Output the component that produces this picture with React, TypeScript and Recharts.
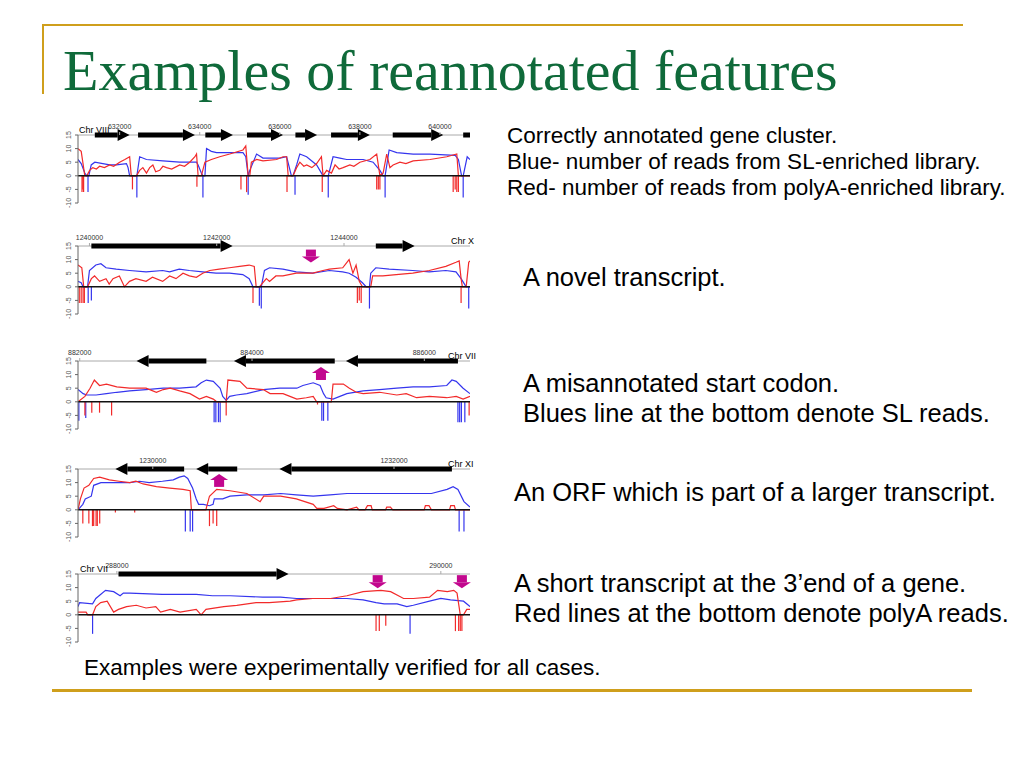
import React from 'react'
import { LineChart, Line, XAxis, YAxis, ReferenceLine, ReferenceDot } from 'recharts'

// [genomic position, reads]
const p1Blue = [
  [630960, 6], [631040, 4.5], [631130, 1], [631180, 0], [631230, 0], [631290, 4], [631380, 5], [631580, 4.5], [631750, 4], [631920, 4],
  [632170, 4.5], [632210, 3], [632250, 0], [632430, 0], [632500, 7], [632670, 6], [633080, 5.5], [633500, 5], [633920, 5], [633960, 4],
  [634040, 1], [634080, 0], [634130, 0], [634170, 10], [634290, 9], [634420, 8.5], [635080, 8.5], [635150, 7], [635210, 0], [635250, 2],
  [635420, 8], [635580, 6.5], [636000, 6.5], [636170, 7], [636290, 0], [636330, 0], [636420, 4], [636500, 8], [636670, 7], [636920, 4],
  [637080, 0], [637210, 0], [637330, 7], [637500, 6.5], [637670, 6], [638080, 6], [638330, 5], [638500, 2], [638580, 0], [638630, 0],
  [638730, 9.5], [638920, 8.5], [639330, 8], [639750, 8], [640380, 7.5], [640460, 6], [640540, 0], [640580, 0], [640680, 7], [640750, 6],
]
const p1Red = [
  [630960, 10], [631040, 9], [631080, 5], [631130, 0], [631180, 0], [631250, 2], [631330, 3], [631420, 2.5], [631500, 3.5], [631620, 3],
  [631750, 4], [631850, 3.5], [632000, 5], [632130, 6], [632250, 7], [632290, 0], [632420, 0], [632500, 2], [632580, 3], [632670, 1],
  [632750, 3], [632830, 4], [632900, 1.5], [633000, 2], [633080, 3.5], [633170, 3], [633300, 2.5], [633500, 4], [633620, 3.5], [633750, 5],
  [633880, 7], [633920, 8], [633960, 0], [634040, 0], [634130, 5], [634290, 6], [634500, 7], [634750, 8], [635080, 9.5], [635150, 11],
  [635210, 0], [635250, 0], [635290, 5], [635420, 6], [635580, 5.5], [635920, 6], [636080, 7], [636170, 7], [636210, 0], [636330, 0],
  [636420, 3], [636500, 5], [636600, 3.5], [636670, 4], [636800, 3], [636920, 4.5], [637040, 7], [637080, 0], [637170, 2], [637290, 1],
  [637380, 4], [637480, 2.5], [637580, 3], [637750, 4], [637850, 3.5], [638000, 5], [638250, 6], [638420, 8], [638500, 0], [638580, 1],
  [638670, 8], [638750, 3], [638830, 4], [639000, 5], [639150, 4.5], [639330, 5.5], [639750, 6], [640170, 7], [640420, 8], [640460, 0],
  [640580, 0], [640750, 0],
]
const p1RedSpikes = [
  [631060, -6], [631080, -5], [631100, -6], [632320, -5], [633930, -4], [635030, -5], [635170, -6], [636180, -6], [637060, -6],
  [638420, -5], [638460, -5], [638500, -5], [640330, -6], [640380, -5], [640420, -6], [640460, -6],
]
const p1BlueSpikes = [[631210, -6], [632430, -8], [634080, -8], [635210, -7], [636380, -7], [637210, -8], [638630, -8], [640580, -8]]
const p1Genes = [
  [631380, 632250, 1], [632460, 633880, 1], [634140, 634830, 1], [635180, 636080, 1], [636390, 636930, 1],
  [637280, 638250, 1], [638820, 640080, 1], [640580, 640750, 0],
]
const p1Ticks = [632000, 634000, 636000, 638000, 640000]

const p2Blue = [
  [1239820, 2], [1239870, 1.5], [1239900, 0], [1239970, 0], [1240000, 6], [1240100, 8], [1240180, 8.5], [1240260, 7], [1240420, 6.5],
  [1240630, 6], [1240890, 5.5], [1241150, 6], [1241260, 5.5], [1241410, 6.5], [1241570, 6], [1241780, 5.5], [1241990, 5], [1242200, 5],
  [1242410, 4.5], [1242510, 3], [1242570, 0], [1242700, 0], [1242750, 6], [1242830, 7], [1243040, 6.5], [1243250, 5.5], [1243510, 5],
  [1243770, 6], [1243980, 5.5], [1244080, 5], [1244190, 3.5], [1244290, 1.5], [1244350, 0], [1244400, 0], [1244420, 5], [1244500, 7],
  [1244710, 6.5], [1245080, 6], [1245340, 5.5], [1245600, 6], [1245760, 5.5], [1245840, 3], [1245920, 0], [1245980, 0],
]
const p2Red = [
  [1239820, 8], [1239880, 7], [1239910, 0], [1239970, 0], [1240030, 3], [1240080, 4], [1240160, 2], [1240260, 3], [1240310, 1],
  [1240370, 3], [1240470, 4], [1240550, 0], [1240630, 2], [1240730, 3], [1240890, 2], [1240990, 3.5], [1241150, 2], [1241260, 4],
  [1241360, 3], [1241470, 5], [1241570, 4], [1241680, 3.5], [1241780, 5], [1241890, 6], [1242040, 6.5], [1242200, 7], [1242360, 7.5],
  [1242510, 8], [1242590, 7.5], [1242620, 0], [1242670, 0], [1242780, 3], [1242830, 2], [1242930, 4], [1243040, 4], [1243250, 5],
  [1243510, 5], [1243670, 6], [1243770, 6.5], [1243980, 7], [1244080, 10], [1244140, 5], [1244190, 8], [1244240, 2], [1244290, 0],
  [1244420, 0], [1244450, 4], [1244610, 4], [1244820, 4.5], [1245080, 5], [1245340, 6], [1245600, 7.5], [1245760, 9], [1245810, 9.5],
  [1245840, 3], [1245860, 0], [1245920, 0], [1245960, 9], [1245980, 9.5],
]
const p2RedSpikes = [
  [1239840, -6], [1239870, -6], [1239900, -6], [1239920, -6], [1242570, -6], [1244210, -6], [1244240, -5], [1244270, -6], [1245840, -6],
]
const p2BlueSpikes = [[1239980, -6], [1240030, -5], [1242670, -7], [1242700, -8], [1244400, -8], [1245960, -8]]
const p2Genes = [[1240030, 1242250, 1], [1244500, 1245110, 1]]
const p2Marks = [[1243480, 8.9, 'down']]
const p2Ticks = [1240000, 1242000, 1244000]

const p3Blue = [
  [881980, 4.5], [882040, 3], [882080, 2.5], [882190, 2.5], [882310, 3], [882430, 3.5], [882580, 4], [882770, 4.5], [882970, 5],
  [883160, 5], [883350, 5.5], [883410, 7], [883470, 8], [883550, 7.5], [883630, 5], [883660, 2], [883700, 0.5], [883740, 2], [883820, 2.5],
  [883940, 3], [884130, 4.5], [884320, 5], [884520, 5], [884590, 6], [884710, 7], [884790, 6], [884830, 3], [884860, 1.5], [884940, 1],
  [885020, 2], [885100, 3], [885290, 4], [885480, 4.5], [885680, 5], [885870, 5.5], [886060, 5.5], [886260, 6], [886320, 8], [886370, 7.5],
  [886450, 5], [886530, 3],
]
const p3Red = [
  [881980, 0], [882060, 2], [882120, 5], [882170, 8], [882230, 6], [882310, 6.5], [882430, 5.5], [882580, 5], [882770, 5], [882890, 3.5],
  [882970, 4.5], [883050, 5], [883160, 4], [883280, 3], [883390, 1], [883470, 2], [883550, 1], [883590, 0], [883700, 0], [883720, 8],
  [883860, 7.5], [883940, 5], [884130, 4.5], [884210, 3], [884360, 3], [884440, 2], [884520, 1], [884630, 1.5], [884710, 2], [884750, 0],
  [884920, 0], [884940, 6.5], [885060, 6.5], [885130, 5], [885210, 3.5], [885290, 3], [885480, 3.5], [885680, 2.5], [885790, 3],
  [885910, 1.5], [886060, 2], [886260, 1.5], [886370, 2], [886450, 1], [886530, 2],
]
const p3RedSpikes = [[882060, -5], [882140, -4], [882230, -4], [882370, -5], [883700, -5], [884760, -1], [886520, -5]]
const p3BlueSpikes = [
  [881990, -7], [882070, -6], [883560, -7.5], [883580, -7.5], [883610, -7.5], [883630, -7.5], [884810, -7], [884830, -7], [884880, -7],
  [886390, -7.5], [886410, -7.5], [886430, -7.5], [886470, -7.5],
]
const p3Genes = [[883470, 882660, 1], [884960, 883790, 1], [886390, 885090, 1]]
const p3Marks = [[884800, 12.8, 'up']]
const p3Ticks = [882000, 884000, 886000]

const p4Blue = [
  [1229380, 0], [1229420, 2], [1229440, 4], [1229490, 5], [1229510, 9], [1229570, 10], [1229670, 10], [1229810, 10], [1229890, 10.5],
  [1229970, 10], [1230080, 10.5], [1230170, 11], [1230220, 12], [1230260, 12.5], [1230290, 11.5], [1230330, 8], [1230360, 4], [1230380, 2],
  [1230420, 2], [1230470, 1.5], [1230500, 2], [1230510, 4], [1230580, 4], [1230640, 5], [1230780, 5.5], [1230920, 5.5], [1231060, 6],
  [1231190, 5.5], [1231330, 5], [1231470, 5.5], [1231610, 6], [1231750, 6], [1231890, 6], [1232030, 6], [1232170, 6], [1232310, 6],
  [1232440, 7.5], [1232490, 8.5], [1232530, 7.5], [1232580, 3], [1232630, 1],
]
const p4Red = [
  [1229380, 0], [1229400, 4], [1229430, 8], [1229470, 9], [1229510, 11.5], [1229560, 12], [1229640, 11], [1229720, 10.5], [1229810, 10],
  [1229860, 10.5], [1229920, 9.5], [1230030, 8.5], [1230140, 8], [1230250, 7.5], [1230310, 7], [1230320, 0], [1230440, 0], [1230470, 5],
  [1230530, 7.5], [1230640, 7], [1230780, 6], [1230890, 3], [1230920, 5], [1231060, 5], [1231190, 4], [1231330, 2], [1231360, 0.5],
  [1231420, 0.5], [1231500, 1.5], [1231530, 0.5], [1231610, 0], [1231690, 1], [1231710, 0], [1231760, 0], [1231780, 1.5], [1231810, 1.5],
  [1231820, 0], [1231930, 0], [1231940, 1], [1231970, 1], [1231990, 0], [1232250, 0], [1232260, 1.5], [1232290, 1.5], [1232310, 0],
  [1232460, 0], [1232470, 1.5], [1232500, 1.5], [1232510, 0], [1232630, 0],
]
const p4RedSpikes = [
  [1229420, -5], [1229470, -5], [1229500, -6], [1229510, -6], [1229530, -6], [1229540, -6], [1229560, -5], [1229690, -1], [1229850, -1],
  [1230470, -6], [1230500, -5], [1230530, -6],
]
const p4BlueSpikes = [[1230270, -8], [1230310, -8], [1230330, -8], [1232540, -8], [1232580, -8]]
const p4Genes = [[1230260, 1229690, 1], [1230700, 1230360, 1], [1232480, 1231050, 1]]
const p4Marks = [[1230550, 13.2, 'up']]
const p4Ticks = [1230000, 1232000]

const p5Blue = [
  [287760, 3], [287770, 4.5], [287850, 4], [287870, 6], [287930, 9], [287980, 8.5], [288020, 7], [288040, 8], [288080, 8], [288280, 7.5],
  [288490, 7.5], [288590, 7], [288700, 7], [288900, 6.5], [289010, 6.5], [289110, 6], [289210, 6], [289320, 6], [289420, 6], [289520, 5.5],
  [289600, 4.5], [289650, 4], [289730, 4], [289790, 3], [289830, 3.5], [289930, 5], [290000, 6], [290060, 5.5], [290140, 5], [290180, 3],
]
const p5Red = [
  [287760, 1], [287810, 1], [287820, 0], [287850, 0], [287870, 3], [287900, 4.5], [287940, 5], [287980, 1], [288010, 2], [288060, 3],
  [288120, 3.5], [288180, 2.5], [288240, 3], [288270, 1], [288330, 2], [288390, 1], [288490, 2], [288520, 0], [288550, 2], [288660, 3],
  [288740, 3.5], [288860, 4.5], [288940, 4.5], [289070, 5], [289110, 5.5], [289210, 6], [289320, 6], [289420, 7], [289520, 8.5],
  [289630, 9], [289690, 8.5], [289770, 6], [289830, 6], [289930, 6.5], [289980, 9], [290040, 8.5], [290080, 9], [290100, 8], [290120, 0],
  [290140, 0], [290160, 2], [290180, 2],
]
const p5RedSpikes = [[289600, -6], [289620, -6], [289660, -4], [290090, -6], [290110, -6], [290120, -6], [290130, -6]]
const p5BlueSpikes = [[287850, -7], [289810, -7]]
const p5Genes = [[288010, 289060, 1]]
const p5Marks = [[289610, 9.8, 'down'], [290130, 9.8, 'down']]
const p5Ticks = [288000, 290000]

const yTicks = [-10, -5, 0, 5, 10, 15]

const notes = [
  { left: 507, top: 123, size: 22.5, lh: 26, lines: ['Correctly annotated gene cluster.', 'Blue- number of reads from SL-enriched library.', 'Red- number of reads from polyA-enriched library.'] },
  { left: 523, top: 262, size: 25.5, lh: 30, lines: ['A novel transcript.'] },
  { left: 523, top: 368, size: 25.5, lh: 30, lines: ['A misannotated start codon.', 'Blues line at the bottom denote SL reads.'] },
  { left: 514, top: 477, size: 25.5, lh: 30, lines: ['An ORF which is part of a larger transcript.'] },
  { left: 514, top: 568, size: 25.5, lh: 30, lines: ['A short transcript at the 3’end of a gene.', 'Red lines at the bottom denote polyA reads.'] },
]

const toPts = (arr: number[][]) => arr.map(([x, y]) => ({ x, y }))

const panels = [
  { top: 119, domain: [630960, 640750], ticks: p1Ticks, blue: p1Blue, red: p1Red, rs: p1RedSpikes, bs: p1BlueSpikes, genes: p1Genes, marks: [] as any[], chr: 'Chr VIII', chrLeft: 79 },
  { top: 230, domain: [1239820, 1245980], ticks: p2Ticks, blue: p2Blue, red: p2Red, rs: p2RedSpikes, bs: p2BlueSpikes, genes: p2Genes, marks: p2Marks, chr: 'Chr X', chrLeft: 451 },
  { top: 345, domain: [881980, 886530], ticks: p3Ticks, blue: p3Blue, red: p3Red, rs: p3RedSpikes, bs: p3BlueSpikes, genes: p3Genes, marks: p3Marks, chr: 'Chr VII', chrLeft: 448 },
  { top: 453, domain: [1229380, 1232630], ticks: p4Ticks, blue: p4Blue, red: p4Red, rs: p4RedSpikes, bs: p4BlueSpikes, genes: p4Genes, marks: p4Marks, chr: 'Chr XI', chrLeft: 448 },
  { top: 558, domain: [287760, 290180], ticks: p5Ticks, blue: p5Blue, red: p5Red, rs: p5RedSpikes, bs: p5BlueSpikes, genes: p5Genes, marks: p5Marks, chr: 'Chr VII', chrLeft: 80 },
]

const RED = '#f22a2a'
const BLUE = '#3535ee'
const GOLD = '#cf9f1c'

function YTick(props: any) {
  const { x, y, payload } = props
  const bx = x - 2
  return (
    <text x={bx} y={y} transform={`rotate(-90 ${bx} ${y})`} textAnchor="middle" fontSize={7} fill="#555">
      {payload.value}
    </text>
  )
}

function GeneShape(props: any) {
  const { x1, y1, x2, headed } = props
  const dir = x2 >= x1 ? 1 : -1
  const len = Math.abs(x2 - x1)
  const head = headed ? Math.min(12, len) : 0
  const hx = x2 - dir * head
  const shaftX = Math.min(x1, hx)
  return (
    <g>
      <rect x={shaftX} y={y1 - 2.5} width={Math.abs(hx - x1)} height={5} fill="#000" />
      {headed ? <polygon points={`${hx},${y1 - 6} ${x2},${y1} ${hx},${y1 + 6}`} fill="#000" /> : null}
    </g>
  )
}

function MarkShape(props: any) {
  const { cx, cy, dir } = props
  const s = dir === 'down' ? -1 : 1
  return (
    <g fill="#c2078e">
      <rect x={cx - 5} y={s > 0 ? cy + 6 : cy - 13} width={10} height={7} />
      <polygon points={`${cx - 9},${cy + s * 6} ${cx},${cy} ${cx + 9},${cy + s * 6}`} />
    </g>
  )
}

function Panel({ p }: { p: (typeof panels)[number] }) {
  return (
    <div style={{ position: 'absolute', left: 40, top: p.top }}>
      <LineChart width={434} height={90} margin={{ top: 2, right: 4, left: 0, bottom: 6 }}>
        <XAxis
          type="number"
          dataKey="x"
          orientation="top"
          domain={p.domain}
          allowDataOverflow
          ticks={p.ticks}
          interval={0}
          height={14}
          tickSize={3}
          tickMargin={3}
          axisLine={false}
          stroke="#aaa"
          tick={{ fontSize: 7, fill: '#333' }}
        />
        <YAxis
          type="number"
          domain={[-10, 15]}
          allowDataOverflow
          ticks={yTicks}
          interval={0}
          width={38}
          tickSize={3}
          stroke="#666"
          tick={<YTick />}
        />
        <ReferenceLine y={15} stroke="#aaa" strokeWidth={1} />
        {p.bs.map((s, i) => (
          <ReferenceLine key={'b' + i} segment={[{ x: s[0], y: 0 }, { x: s[0], y: s[1] }]} stroke={BLUE} strokeWidth={1.2} ifOverflow="visible" />
        ))}
        {p.rs.map((s, i) => (
          <ReferenceLine key={'r' + i} segment={[{ x: s[0], y: 0 }, { x: s[0], y: s[1] }]} stroke={RED} strokeWidth={1.2} ifOverflow="visible" />
        ))}
        <Line data={toPts(p.blue)} dataKey="y" stroke={BLUE} strokeWidth={1.2} dot={false} isAnimationActive={false} />
        <Line data={toPts(p.red)} dataKey="y" stroke={RED} strokeWidth={1.2} dot={false} isAnimationActive={false} />
        <ReferenceLine y={0} stroke="#111" strokeWidth={1.5} />
        {p.genes.map((g, i) => (
          <ReferenceLine
            key={'g' + i}
            segment={[{ x: g[0], y: 15 }, { x: g[1], y: 15 }]}
            ifOverflow="visible"
            shape={(sp: any) => <GeneShape {...sp} headed={g[2]} />}
          />
        ))}
        {p.marks.map((m, i) => (
          <ReferenceDot key={'m' + i} x={m[0]} y={m[1]} ifOverflow="visible" shape={(sp: any) => <MarkShape {...sp} dir={m[2]} />} />
        ))}
      </LineChart>
      <div style={{ position: 'absolute', left: p.chrLeft - 40, top: 7, fontSize: 9, lineHeight: '9px', color: '#000', whiteSpace: 'nowrap' }}>{p.chr}</div>
    </div>
  )
}

export default function App() {
  return (
    <div style={{ position: 'absolute', left: 0, top: 0, width: 1024, height: 768, background: '#fff', fontFamily: '"Liberation Sans", Arial, sans-serif', overflow: 'hidden' }}>
      <div style={{ position: 'absolute', left: 42, top: 24, width: 921, height: 2, background: GOLD }} />
      <div style={{ position: 'absolute', left: 42, top: 24, width: 2, height: 70, background: GOLD }} />
      <div style={{ position: 'absolute', left: 52, top: 689, width: 920, height: 3, background: GOLD }} />
      <div style={{ position: 'absolute', left: 63, top: 42, fontFamily: '"Liberation Serif", "Times New Roman", serif', fontSize: 58, lineHeight: '58px', color: '#0f6a3a', whiteSpace: 'nowrap' }}>
        Examples of reannotated features
      </div>
      {panels.map((p, i) => (
        <Panel key={i} p={p} />
      ))}
      {notes.map((n, i) => (
        <div key={i} style={{ position: 'absolute', left: n.left, top: n.top, fontSize: n.size, lineHeight: n.lh + 'px', color: '#000', whiteSpace: 'nowrap' }}>
          {n.lines.map((l, j) => (
            <div key={j}>{l}</div>
          ))}
        </div>
      ))}
      <div style={{ position: 'absolute', left: 84, top: 654, fontSize: 22.5, lineHeight: '27px', color: '#000', whiteSpace: 'nowrap' }}>
        Examples were experimentally verified for all cases.
      </div>
    </div>
  )
}
